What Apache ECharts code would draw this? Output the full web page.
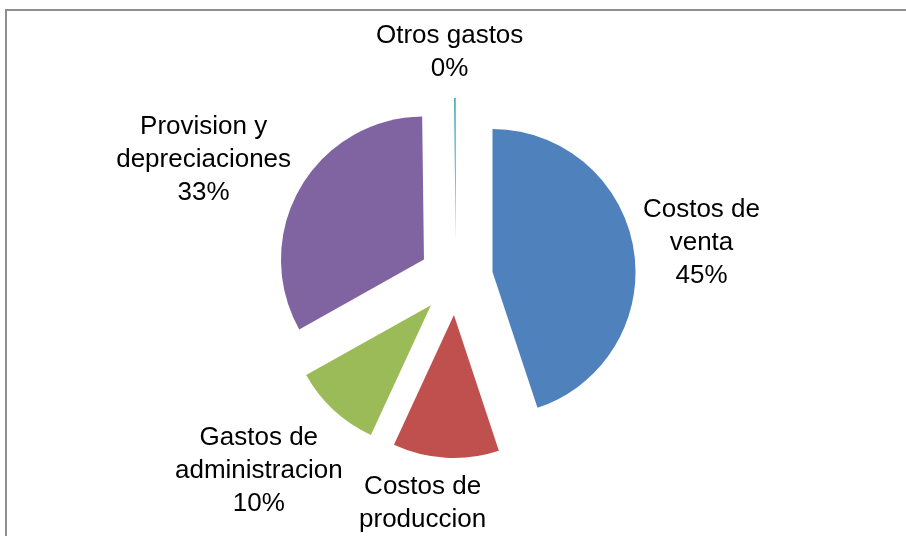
<!DOCTYPE html>
<html>
<head>
<meta charset="utf-8">
<script src="https://cdn.jsdelivr.net/npm/echarts@6/dist/echarts.min.js"></script>
<style>
  html, body { margin: 0; padding: 0; background: #fff; }
  #pie { width: 906px; height: 536px; }
</style>
</head>
<body>
<div id="pie"></div>
<script>
// categorias (con salto de linea como en el grafico original)
const categories = ['Costos de\nventa', 'Costos de\nproduccion', 'Gastos de\nadministracion', 'Provision y\ndepreciaciones', 'Otros gastos'];
// valores en porcentaje
const values = [45, 12, 10, 33, 0.2];
const colors = ['#4F81BD', '#C0504D', '#9BBB59', '#8064A2', '#4BACC6'];

// geometria del pastel
const CENTER = [456, 278];
const RADIUS = 143;
const OFFSET = 37;
const GAP = 4;
// pequeños ajustes de posicion de cada etiqueta (como el "mejor ajuste" de Excel)
const labelNudge = [[-1, 5], [-20, 5], [-9, -11], [-6, 24], [-5, -8]];

const total = values.reduce((a, b) => a + b, 0);

// angulo medio de cada porcion, desde las 12 en sentido horario
const midAngles = [];
let acc = 0;
values.forEach(v => {
  midAngles.push((acc + v / 2) / total * Math.PI * 2);
  acc += v;
});

const chart = echarts.init(document.getElementById('pie'));

const option = {
  animation: false,
  graphic: [{
    type: 'rect',
    shape: { x: 6, y: 10, width: 960, height: 600 },
    style: { fill: 'none', stroke: '#8e8e8e', lineWidth: 2 },
    silent: true
  }],
  series: [
    {
      // porciones separadas
      type: 'pie',
      center: CENTER,
      radius: RADIUS,
      startAngle: 90,
      clockwise: true,
      selectedMode: 'multiple',
      selectedOffset: OFFSET,
      itemStyle: { borderWidth: 0 },
      emphasis: { scale: false },
      label: { show: false },
      labelLine: { show: false },
      data: categories.map((name, i) => ({
        name: name,
        value: values[i],
        selected: true,
        itemStyle: { color: colors[i] }
      }))
    },
    {
      // serie invisible solo para las etiquetas (borde = borde de la porcion separada)
      type: 'pie',
      silent: true,
      center: CENTER,
      radius: RADIUS + OFFSET,
      startAngle: 90,
      clockwise: true,
      avoidLabelOverlap: false,
      itemStyle: { color: 'rgba(0,0,0,0)', borderWidth: 0 },
      label: {
        show: true,
        position: 'outside',
        fontFamily: 'Liberation Sans, Arial, sans-serif',
        fontSize: 26,
        lineHeight: 33,
        color: '#000',
        formatter: p => p.name + '\n' + Math.round(p.percent) + '%'
      },
      labelLine: { show: false },
      labelLayout: function (params) {
        const i = params.dataIndex;
        const a = midAngles[i];
        const dx = Math.sin(a), dy = -Math.cos(a);
        const w = params.labelRect.width, h = params.labelRect.height;
        const r = OFFSET + RADIUS + GAP + Math.abs(dx) * w / 2 + Math.abs(dy) * h / 2;
        return {
          x: CENTER[0] + dx * r + labelNudge[i][0],
          y: CENTER[1] + dy * r + labelNudge[i][1],
          align: 'center',
          verticalAlign: 'middle'
        };
      },
      data: categories.map((name, i) => ({ name: name, value: values[i] }))
    }
  ]
};

chart.setOption(option);
</script>
</body>
</html>
